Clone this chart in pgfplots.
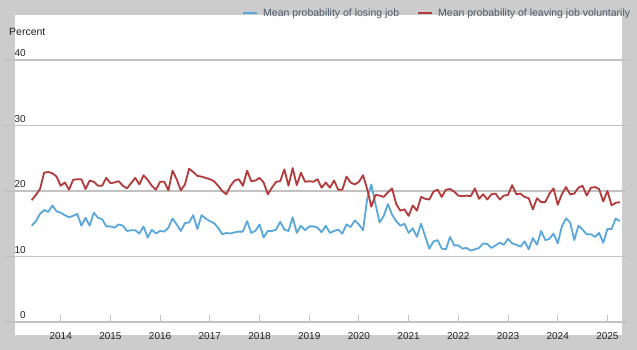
\documentclass[border=0pt]{standalone}
\usepackage{pgfplots}
\pgfplotsset{compat=1.18}
\usepackage{pgfplotstable}
\usepackage{fontspec}
\setmainfont{Liberation Sans}
\definecolor{bg}{HTML}{CCCCCC}
\definecolor{gridc}{HTML}{C2C2C2}
\definecolor{blueL}{HTML}{5AA7DB}
\definecolor{redL}{HTML}{B33A3A}
\definecolor{legtxt}{HTML}{4F5B6B}
\definecolor{ticktxt}{HTML}{222222}

\pgfplotstableread{
yr mo lose leave
2013 6 14.7 18.6
2013 7 15.4 19.4
2013 8 16.5 20.3
2013 9 17.1 22.8
2013 10 16.8 22.9
2013 11 17.8 22.7
2013 12 16.9 22.2
2014 1 16.7 20.8
2014 2 16.3 21.3
2014 3 16.0 20.2
2014 4 16.2 21.7
2014 5 16.5 21.8
2014 6 14.7 21.8
2014 7 15.9 20.3
2014 8 14.7 21.6
2014 9 16.7 21.4
2014 10 15.9 20.8
2014 11 15.7 20.8
2014 12 14.6 22.0
2015 1 14.6 21.2
2015 2 14.4 21.3
2015 3 14.9 21.5
2015 4 14.7 20.8
2015 5 13.9 20.4
2015 6 14.0 21.2
2015 7 14.0 22.0
2015 8 13.5 21.0
2015 9 14.6 22.4
2015 10 12.9 21.7
2015 11 14.1 20.8
2015 12 13.5 20.2
2016 1 13.9 21.4
2016 2 13.8 21.4
2016 3 14.4 20.1
2016 4 15.8 23.1
2016 5 14.9 21.8
2016 6 13.9 20.1
2016 7 15.1 21.0
2016 8 15.2 23.4
2016 9 16.3 22.9
2016 10 14.2 22.3
2016 11 16.3 22.2
2016 12 15.8 22.0
2017 1 15.4 21.8
2017 2 15.1 21.5
2017 3 14.4 20.8
2017 4 13.4 20.0
2017 5 13.6 19.5
2017 6 13.5 20.8
2017 7 13.7 21.6
2017 8 13.8 21.8
2017 9 13.8 20.8
2017 10 15.4 23.1
2017 11 13.6 21.5
2017 12 13.9 21.6
2018 1 14.9 22.0
2018 2 12.9 21.3
2018 3 13.9 19.5
2018 4 13.9 20.5
2018 5 14.1 21.4
2018 6 15.3 21.5
2018 7 14.1 23.3
2018 8 13.9 20.8
2018 9 16.0 23.5
2018 10 13.6 20.9
2018 11 14.7 22.8
2018 12 14.0 21.4
2019 1 14.6 21.5
2019 2 14.6 21.4
2019 3 14.4 21.8
2019 4 13.7 20.5
2019 5 14.7 21.3
2019 6 13.6 20.5
2019 7 13.9 21.6
2019 8 14.1 20.2
2019 9 13.5 20.2
2019 10 14.9 22.2
2019 11 14.5 21.3
2019 12 15.5 21.0
2020 1 14.9 21.4
2020 2 14.0 22.4
2020 3 18.8 20.3
2020 4 21.0 17.6
2020 5 18.0 19.4
2020 6 15.2 19.3
2020 7 16.2 19.1
2020 8 18.0 19.8
2020 9 16.4 20.4
2020 10 15.4 18.0
2020 11 14.7 17.0
2020 12 15.0 17.2
2021 1 13.6 16.2
2021 2 14.3 17.8
2021 3 13.0 17.0
2021 4 15.0 19.1
2021 5 13.1 18.8
2021 6 11.2 18.7
2021 7 12.3 19.9
2021 8 12.5 20.2
2021 9 11.2 19.1
2021 10 11.1 20.2
2021 11 13.0 20.3
2021 12 11.7 19.9
2022 1 11.7 19.3
2022 2 11.2 19.2
2022 3 11.3 19.3
2022 4 10.9 19.2
2022 5 11.1 20.4
2022 6 11.3 18.8
2022 7 12.0 19.5
2022 8 11.9 18.7
2022 9 11.3 19.5
2022 10 11.7 19.6
2022 11 12.1 18.7
2022 12 11.8 19.3
2023 1 12.7 19.4
2023 2 12.0 20.9
2023 3 11.8 19.5
2023 4 11.5 19.6
2023 5 12.3 19.1
2023 6 11.1 18.9
2023 7 12.8 17.2
2023 8 11.8 18.9
2023 9 13.9 18.3
2023 10 12.5 18.3
2023 11 12.7 19.6
2023 12 13.5 20.4
2024 1 12.0 17.9
2024 2 14.6 19.5
2024 3 15.8 20.6
2024 4 15.2 19.5
2024 5 12.5 19.6
2024 6 14.7 20.5
2024 7 14.1 20.8
2024 8 13.4 19.3
2024 9 13.4 20.5
2024 10 13.0 20.6
2024 11 13.6 20.3
2024 12 12.1 18.4
2025 1 14.2 20.0
2025 2 14.2 17.8
2025 3 15.8 18.2
2025 4 15.4 18.3
}\jobdata

\begin{document}
\begin{tikzpicture}
\fill[bg] (0bp,0bp) rectangle (637bp,350bp);
\fill[white] (15bp,15bp) rectangle (622bp,335bp);
\node[anchor=west, inner sep=0pt, font=\fontsize{10.5bp}{12bp}\selectfont, text=ticktxt] at (9bp,318bp) {Percent};
\begin{axis}[
  at={(4bp,28bp)}, anchor=south west,
  scale only axis, width=622bp, height=262bp,
  xmin=2012.859, xmax=2025.374, ymin=0, ymax=40,
  axis line style={draw=none},
  ymajorgrids, grid style={gridc, line width=1.2bp},
  ytick={0,10,20,30,40},
  xtick={2014,2015,...,2025},
  xtick pos=lower, ytick pos=left,
  tick align=inside,
  xtick style={gridc, line width=1bp},
  major tick length=7bp,
  ytick style={draw=none},
  /pgf/number format/.cd, 1000 sep={}, assume math mode=true,
  /pgfplots/.cd,
  xticklabel style={font=\fontsize{10bp}{12bp}\selectfont, text=ticktxt, anchor=north, inner sep=0pt, yshift=-10bp},
  yticklabel style={font=\fontsize{10bp}{12bp}\selectfont, text=ticktxt, anchor=south east, inner sep=0pt, xshift=22bp, yshift=3bp},
  legend columns=2,
  legend style={at={(0.3826,1.179)}, anchor=west, draw=none, fill=none, inner sep=0pt,
    font=\fontsize{10.5bp}{12bp}\selectfont, text=legtxt,
    nodes={inner sep=0pt},
    /tikz/every odd column/.append style={column sep=5bp},
    /tikz/every even column/.append style={column sep=18bp}},
  legend image code/.code={\draw[#1, line width=2bp] (0bp,0bp) -- (14bp,0bp);},
]
\addplot[blueL, line width=1.8bp, no marks, line join=round] table[x expr=\thisrow{yr}+(\thisrow{mo}-1)/12, y=lose] {\jobdata};
\addlegendentry{Mean probability of losing job}
\addplot[redL, line width=1.8bp, no marks, line join=round] table[x expr=\thisrow{yr}+(\thisrow{mo}-1)/12, y=leave] {\jobdata};
\addlegendentry{Mean probability of leaving job voluntarily}
\end{axis}
\end{tikzpicture}
\end{document}
